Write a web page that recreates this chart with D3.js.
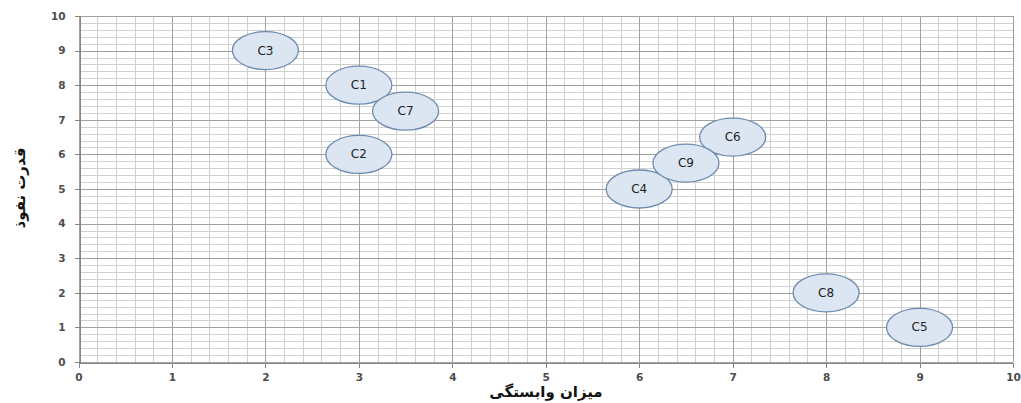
<!DOCTYPE html>
<html>
<head>
<meta charset="utf-8">
<script src="https://cdn.jsdelivr.net/npm/d3@7"></script>
<style>
  html, body { margin: 0; padding: 0; background: #fff; }
  svg { display: block; }
</style>
</head>
<body>
<div id="chart"></div>
<script>
// Factor labels with their dependence (x) and driving power (y)
const labels = ["C1", "C2", "C3", "C4", "C5", "C6", "C7", "C8", "C9"];
const dependence = [3, 3, 2, 6, 9, 7, 3.5, 8, 6.5];
const influence = [8, 6, 9, 5, 1, 6.5, 7.25, 2, 5.75];
const xTicks = [0, 1, 2, 3, 4, 5, 6, 7, 8, 9, 10];
const yTicks = [0, 1, 2, 3, 4, 5, 6, 7, 8, 9, 10];
const xTitle = "میزان وابستگی";
const yTitle = "قدرت نفوذ";

const W = 1021, H = 403;
const margin = { left: 78.5, right: 8, top: 16, bottom: 41 };

const svg = d3.select("#chart").append("svg")
  .attr("width", W).attr("height", H);

const x = d3.scaleLinear().domain([0, 10]).range([margin.left, W - margin.right]);
const y = d3.scaleLinear().domain([0, 10]).range([H - margin.bottom, margin.top]);

const minorX = d3.range(0, 10.001, 0.2).map(v => +v.toFixed(1));
const minorY = d3.range(0, 10.001, 0.2).map(v => +v.toFixed(1));

const grid = svg.append("g").attr("shape-rendering", "crispEdges");
// minor gridlines
grid.selectAll(".mx").data(minorX).join("line")
  .attr("x1", d => Math.round(x(d)) + 0.5).attr("x2", d => Math.round(x(d)) + 0.5)
  .attr("y1", y(0)).attr("y2", y(10))
  .attr("stroke", "#d0d0d0").attr("stroke-width", 1);
grid.selectAll(".my").data(minorY).join("line")
  .attr("y1", d => Math.round(y(d)) + 0.5).attr("y2", d => Math.round(y(d)) + 0.5)
  .attr("x1", x(0)).attr("x2", x(10))
  .attr("stroke", "#d0d0d0").attr("stroke-width", 1);
// major gridlines
grid.selectAll(".Mx").data(xTicks).join("line")
  .attr("x1", d => Math.round(x(d)) + 0.5).attr("x2", d => Math.round(x(d)) + 0.5)
  .attr("y1", y(0)).attr("y2", y(10))
  .attr("stroke", "#a0a0a0").attr("stroke-width", 1);
grid.selectAll(".My").data(yTicks).join("line")
  .attr("y1", d => Math.round(y(d)) + 0.5).attr("y2", d => Math.round(y(d)) + 0.5)
  .attr("x1", x(0)).attr("x2", x(10))
  .attr("stroke", "#a0a0a0").attr("stroke-width", 1);

// axes
const xAxis = d3.axisBottom(x).tickValues(xTicks).tickSize(5).tickPadding(6).tickFormat(d3.format("d"));
const yAxis = d3.axisLeft(y).tickValues(yTicks).tickSize(5).tickPadding(9).tickFormat(d3.format("d"));

const gx = svg.append("g").attr("transform", `translate(0,${Math.round(y(0)) + 0.5})`).call(xAxis);
const gy = svg.append("g").attr("transform", `translate(${Math.round(x(0)) + 0.5},0)`).call(yAxis);
[gx, gy].forEach(g => {
  g.attr("shape-rendering", "crispEdges");
  g.select(".domain").attr("stroke", "#868686");
  g.selectAll(".tick line").attr("stroke", "#868686");
  g.selectAll(".tick text")
    .attr("font-family", "DejaVu Sans, Verdana, sans-serif")
    .attr("font-size", 10.5).attr("font-weight", "bold")
    .attr("fill", "#4d4d4d");
});

// bubbles
const pts = labels.map((l, i) => ({ label: l, dx: dependence[i], dy: influence[i] }));
const g = svg.append("g");
g.selectAll("ellipse").data(pts).join("ellipse")
  .attr("cx", d => x(d.dx)).attr("cy", d => y(d.dy))
  .attr("rx", 33).attr("ry", 19)
  .attr("fill", "#dce6f2").attr("stroke", "#6d8bae").attr("stroke-width", 1.3);
g.selectAll("text").data(pts).join("text")
  .attr("x", d => x(d.dx)).attr("y", d => y(d.dy))
  .attr("text-anchor", "middle").attr("dominant-baseline", "central")
  .attr("font-family", "DejaVu Sans, Verdana, sans-serif")
  .attr("font-size", 12).attr("fill", "#222")
  .text(d => d.label);

// axis titles
svg.append("text")
  .attr("x", 546).attr("y", 397)
  .attr("text-anchor", "middle")
  .attr("font-family", "DejaVu Sans, sans-serif")
  .attr("font-size", 15).attr("font-weight", "bold").attr("fill", "#111")
  .attr("direction", "rtl")
  .text(xTitle);
svg.append("text")
  .attr("transform", "translate(25,188) rotate(-90)")
  .attr("text-anchor", "middle")
  .attr("font-family", "DejaVu Sans, sans-serif")
  .attr("font-size", 15).attr("font-weight", "bold").attr("fill", "#111")
  .attr("direction", "rtl")
  .text(yTitle);
</script>
</body>
</html>
